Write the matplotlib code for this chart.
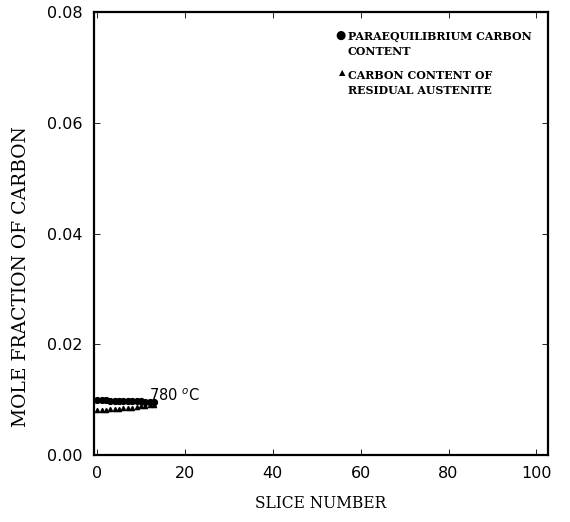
import numpy as np
import matplotlib
matplotlib.use('Agg')
import matplotlib.pyplot as plt

# Slice numbers and carbon mole fractions at 780 C
slices = [0, 1, 2, 3, 4, 5, 6, 7, 8, 9, 10, 11, 12, 13]
para_carbon = [0.0099, 0.0099, 0.0099, 0.0098, 0.0098, 0.0098, 0.0098,
               0.0097, 0.0097, 0.0097, 0.0097, 0.0096, 0.0096, 0.0096]
resid_carbon = [0.0081, 0.0082, 0.0082, 0.0083, 0.0084, 0.0084, 0.0085,
                0.0086, 0.0086, 0.0087, 0.0088, 0.0089, 0.0090, 0.0091]

x_ticks = [0, 20, 40, 60, 80, 100]
y_ticks = [0.00, 0.02, 0.04, 0.06, 0.08]
legend_labels = ['PARAEQUILIBRIUM CARBON\nCONTENT',
                 'CARBON CONTENT OF\nRESIDUAL AUSTENITE']
legend_glyphs = ['\u25cf', '\u25b2']

serif = 'DejaVu Serif'

fig = plt.figure(figsize=(5.7, 5.22), dpi=100)
ax = fig.add_axes([0.165, 0.128, 0.796, 0.849])

ax.plot(slices, para_carbon, 'o', color='black', markersize=4.2)
ax.plot(slices, resid_carbon, '^', color='black', markersize=3)

ax.text(11.8, 0.0108, '780 $^o$C', fontsize=10.5, ha='left', va='center')

ax.set_xlim(-0.7, 102.6)
ax.set_ylim(0, 0.08)
ax.set_xticks(x_ticks)
ax.set_yticks(y_ticks)
ax.set_yticklabels(['%.2f' % v for v in y_ticks])
ax.tick_params(direction='in', top=True, right=True, length=4, width=0.6,
               labelsize=11.5, pad=8)
for s in ax.spines.values():
    s.set_linewidth(1.6)

ax.set_xlabel('SLICE NUMBER', fontsize=11.2, family=serif, labelpad=10)
fig.text(0.036, 1 - 277 / 522, 'MOLE FRACTION OF CARBON', rotation=90,
         fontsize=13.5, family=serif, ha='center', va='center')

# legend drawn as text so the marker sits on the first line
legend_y = [0.957, 0.869]
legend_size = [8.5, 6]
for glyph, label, y, gs in zip(legend_glyphs, legend_labels, legend_y, legend_size):
    ax.text(0.554, y + 0.004, glyph, transform=ax.transAxes, fontsize=gs,
            ha='right', va='top', family='DejaVu Sans')
    ax.text(0.559, y, label, transform=ax.transAxes, fontsize=7.9,
            family=serif, weight='bold', ha='left', va='top', linespacing=1.45)

fig.savefig('out.png', dpi=100)
